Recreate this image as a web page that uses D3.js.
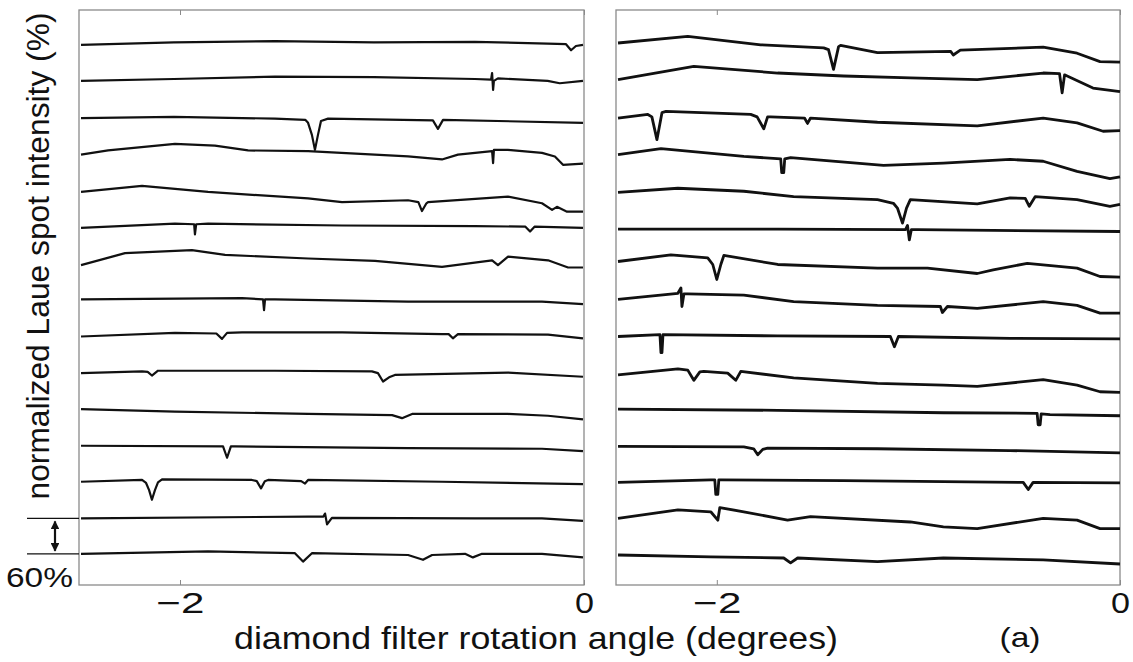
<!DOCTYPE html>
<html>
<head>
<meta charset="utf-8">
<script src="https://cdn.jsdelivr.net/npm/d3@7/dist/d3.min.js"></script>
<style>
body { margin: 0; background: #fff; }
text { font-family: "Liberation Sans", Arial, sans-serif; fill: #111; }
</style>
</head>
<body>
<svg id="chart" width="1133" height="662"></svg>
<script>
// angle ticks (degrees)
var angleTicks = [-2, 0];
var angleDomain = [-2.5, 0];

// stacking level of each trace (%), top to bottom
var leftOffsets = [900, 840, 778, 717, 655, 595, 533, 476, 414, 353, 293, 232, 172, 111, 52];
var rightOffsets = [903, 842, 778, 717, 654, 593, 539, 476, 414, 350, 293, 231, 171, 111, 50];

// normalized intensity (%) vs angle
var leftTraces = [
  [[-2.49,100],[-2.03,104],[-1.53,106],[-1.04,104],[-0.54,105],[-0.18,102],[-0.089,101],[-0.064,91],[-0.04,98],[-0.005,100]],
  [[-2.49,100],[-2.03,103],[-1.53,107],[-1.04,106],[-0.54,103],[-0.46,102],[-0.455,113],[-0.45,85],[-0.446,100],[-0.426,104],[-0.18,100],[-0.12,96],[-0.005,100]],
  [[-2.49,100],[-2.03,102],[-1.53,99],[-1.38,97],[-1.366,92],[-1.347,72],[-1.332,47],[-1.317,72],[-1.302,95],[-1.267,99],[-0.748,96],[-0.723,82],[-0.698,97],[-0.005,92]],
  [[-2.49,100],[-2.356,107],[-2.025,118],[-1.827,115],[-1.663,107],[-1.366,106],[-0.871,97],[-0.703,92],[-0.624,100],[-0.455,106],[-0.45,86],[-0.446,108],[-0.376,108],[-0.208,103],[-0.144,97],[-0.104,83],[-0.005,85]],
  [[-2.49,100],[-2.188,110],[-1.861,100],[-1.366,89],[-1.198,83],[-0.871,86],[-0.82,83],[-0.802,68],[-0.78,81],[-0.772,83],[-0.376,92],[-0.208,81],[-0.158,70],[-0.134,75],[-0.084,67],[-0.005,67]],
  [[-2.49,100],[-2.025,107],[-1.93,106],[-1.926,89],[-1.92,106],[-1.861,107],[-1.198,104],[-0.54,103],[-0.29,102],[-0.267,94],[-0.245,102],[-0.005,100]],
  [[-2.49,100],[-2.272,120],[-1.941,125],[-1.777,117],[-1.366,111],[-1.035,107],[-0.703,97],[-0.455,108],[-0.426,100],[-0.376,114],[-0.178,108],[-0.079,96],[-0.005,96]],
  [[-2.49,100],[-1.693,102],[-1.589,100],[-1.584,82],[-1.579,100],[-1.53,100],[-0.871,96],[-0.208,96],[-0.005,92]],
  [[-2.49,100],[-2.025,106],[-1.82,105],[-1.792,96],[-1.767,106],[-1.693,107],[-1.198,107],[-0.703,104],[-0.67,104],[-0.649,97],[-0.624,104],[-0.178,103],[-0.005,97]],
  [[-2.49,100],[-2.188,103],[-2.16,102],[-2.139,96],[-2.109,104],[-1.53,104],[-1.05,103],[-1.02,100],[-0.995,86],[-0.965,93],[-0.936,97],[-0.376,101],[-0.005,94]],
  [[-2.49,100],[-2.025,96],[-1.366,92],[-0.95,90],[-0.901,85],[-0.851,92],[-0.376,92],[-0.178,89],[-0.005,83]],
  [[-2.49,100],[-1.787,99],[-1.767,80],[-1.748,99],[-1.728,99],[-0.871,96],[-0.208,95],[-0.005,91]],
  [[-2.49,100],[-2.188,103],[-2.168,98],[-2.153,86],[-2.139,70],[-2.124,86],[-2.109,99],[-2.089,104],[-1.644,103],[-1.62,101],[-1.599,89],[-1.58,101],[-1.564,103],[-1.40,101],[-1.381,97],[-1.366,103],[-0.703,100],[-0.005,96]],
  [[-2.49,100],[-1.366,103],[-1.29,103],[-1.282,108],[-1.272,90],[-1.248,101],[-0.54,100],[-0.208,100],[-0.005,96]],
  [[-2.49,100],[-1.861,104],[-1.431,101],[-1.391,87],[-1.347,101],[-0.871,98],[-0.797,90],[-0.752,98],[-0.589,100],[-0.55,94],[-0.505,100],[-0.208,100],[-0.005,94]]
];

var rightTraces = [
  [[-2.49,100],[-2.144,111],[-1.782,97],[-1.47,92],[-1.446,89],[-1.421,56],[-1.396,94],[-1.386,96],[-1.203,84],[-0.84,86],[-0.827,80],[-0.792,88],[-0.381,93],[-0.213,83],[-0.099,69],[0,68]],
  [[-2.49,100],[-2.114,122],[-1.698,111],[-1.371,106],[-1.04,103],[-0.708,100],[-0.381,111],[-0.30,110],[-0.287,78],[-0.275,108],[-0.262,106],[-0.134,86],[0,80]],
  [[-2.49,100],[-2.342,106],[-2.322,102],[-2.297,64],[-2.272,109],[-2.252,111],[-1.832,106],[-1.80,102],[-1.767,82],[-1.748,102],[-1.733,102],[-1.565,100],[-1.55,91],[-1.535,100],[-1.203,93],[-0.708,87],[-0.381,100],[-0.213,92],[-0.084,78],[0,79]],
  [[-2.49,100],[-2.277,110],[-1.866,97],[-1.683,93],[-1.678,70],[-1.668,70],[-1.663,93],[-1.634,95],[-1.173,82],[-0.876,86],[-0.545,92],[-0.381,89],[-0.213,72],[-0.05,60],[0,63]],
  [[-2.49,100],[-2.193,107],[-1.866,102],[-1.619,93],[-1.203,88],[-1.124,82],[-1.104,74],[-1.079,49],[-1.059,74],[-1.04,88],[-0.708,81],[-0.545,91],[-0.47,90],[-0.45,77],[-0.421,93],[-0.213,88],[-0.05,77],[0,80]],
  [[-2.49,100],[-1.698,100],[-1.064,99],[-1.054,106],[-1.045,82],[-1.035,99],[-1.005,99],[0,96]],
  [[-2.49,100],[-2.228,111],[-2.045,106],[-2.02,95],[-2.0,70],[-1.98,95],[-1.965,110],[-1.698,95],[-1.203,89],[-0.955,89],[-0.708,80],[-0.629,86],[-0.46,97],[-0.213,89],[-0.099,75],[0,74]],
  [[-2.49,100],[-2.193,110],[-2.178,119],[-2.173,88],[-2.163,109],[-2.144,109],[-1.866,107],[-1.619,96],[-1.203,90],[-0.891,88],[-0.881,78],[-0.856,88],[-0.708,85],[-0.381,96],[-0.213,90],[-0.099,77],[0,77]],
  [[-2.49,100],[-2.282,103],[-2.277,73],[-2.272,73],[-2.267,103],[-1.698,101],[-1.139,100],[-1.119,83],[-1.099,100],[-0.545,97],[0,96]],
  [[-2.49,100],[-2.193,110],[-2.144,108],[-2.114,91],[-2.084,105],[-2.064,106],[-1.946,103],[-1.906,91],[-1.881,106],[-1.619,95],[-1.203,86],[-0.876,83],[-0.708,81],[-0.381,92],[-0.213,83],[-0.099,72],[0,71]],
  [[-2.49,100],[-1.698,98],[-0.876,94],[-0.411,93],[-0.406,74],[-0.396,74],[-0.391,92],[-0.347,91],[0,89]],
  [[-2.49,100],[-1.866,99],[-1.817,96],[-1.797,86],[-1.772,95],[-1.748,97],[-1.203,96],[-0.545,93],[0,89]],
  [[-2.49,100],[-2.03,104],[-2.01,104],[-2.005,80],[-1.995,80],[-1.99,104],[-1.98,104],[-1.371,103],[-0.48,100],[-0.455,88],[-0.431,100],[0,99]],
  [[-2.49,100],[-2.193,114],[-2.03,111],[-1.995,97],[-1.985,118],[-1.866,111],[-1.649,97],[-1.535,103],[-1.04,94],[-0.876,86],[-0.708,83],[-0.381,100],[-0.213,97],[-0.099,83],[0,83]],
  [[-2.49,100],[-2.03,97],[-1.668,95],[-1.634,87],[-1.599,95],[-1.203,89],[-0.876,95],[-0.381,92],[0,85]]
];

var svg = d3.select("#chart");

var y = d3.scaleLinear()
  .domain([0, 958])
  .range([585, 10]);

var panels = [
  {x0: 79, x1: 584, offsets: leftOffsets, traces: leftTraces, sw: 2.2},
  {x0: 616, x1: 1120, offsets: rightOffsets, traces: rightTraces, sw: 2.8}
];

panels.forEach(function(p) {
  var x = d3.scaleLinear()
    .domain(angleDomain)
    .range([p.x0, p.x1]);

  svg.append("rect")
    .attr("x", p.x0)
    .attr("y", y(958))
    .attr("width", p.x1 - p.x0)
    .attr("height", y(0) - y(958))
    .attr("fill", "none")
    .attr("stroke", "#8a8a8a")
    .attr("stroke-width", 1.3);

  var bottom = svg.append("g")
    .attr("transform", "translate(0," + y(0) + ")")
    .call(d3.axisBottom(x).tickValues(angleTicks).tickSize(-5).tickPadding(7).tickFormat(d3.format("d")));
  var top = svg.append("g")
    .attr("transform", "translate(0," + y(958) + ")")
    .call(d3.axisTop(x).tickValues(angleTicks).tickSize(-5).tickFormat(""));

  [bottom, top].forEach(function(g) {
    g.select(".domain").remove();
    g.selectAll("line").attr("stroke", "#8a8a8a");
  });
  bottom.selectAll("text")
    .attr("font-size", 29)
    .attr("font-family", "'Liberation Sans', Arial, sans-serif")
    .attr("fill", "#111")
    .attr("textLength", function(d) { return d === 0 ? 19 : 48; })
    .attr("lengthAdjust", "spacingAndGlyphs");

  p.traces.forEach(function(t, i) {
    var off = p.offsets[i];
    var line = d3.line()
      .x(function(d) { return x(d[0]); })
      .y(function(d) { return y(off + d[1] - 100); });

    svg.append("path")
      .datum(t)
      .attr("d", line)
      .attr("fill", "none")
      .attr("stroke", "#111")
      .attr("stroke-width", p.sw)
      .attr("stroke-linejoin", "round");
  });
});

// 60% scale bar between the two lowest left traces
var barTop = leftOffsets[13], barBottom = leftOffsets[14];
[barTop, barBottom].forEach(function(v) {
  svg.append("line")
    .attr("x1", 27).attr("x2", 79)
    .attr("y1", y(v)).attr("y2", y(v))
    .attr("stroke", "#111")
    .attr("stroke-width", 1.2);
});

svg.append("defs").append("marker")
  .attr("id", "head")
  .attr("viewBox", "0 0 10 10")
  .attr("refX", 9).attr("refY", 5)
  .attr("markerWidth", 4).attr("markerHeight", 4)
  .attr("orient", "auto-start-reverse")
  .append("path")
    .attr("d", "M0,0L10,5L0,10Z")
    .attr("fill", "#111");

svg.append("line")
  .attr("x1", 55).attr("x2", 55)
  .attr("y1", y(barTop) + 3).attr("y2", y(barBottom) - 3)
  .attr("stroke", "#111")
  .attr("stroke-width", 2.2)
  .attr("marker-start", "url(#head)")
  .attr("marker-end", "url(#head)");

svg.append("text")
  .attr("x", 6)
  .attr("y", 587)
  .attr("font-size", 27)
  .attr("textLength", 67)
  .attr("lengthAdjust", "spacingAndGlyphs")
  .text("60%");

// axis titles
svg.append("text")
  .attr("x", 536)
  .attr("y", 649)
  .attr("text-anchor", "middle")
  .attr("font-size", 32)
  .attr("textLength", 604)
  .attr("lengthAdjust", "spacingAndGlyphs")
  .text("diamond filter rotation angle (degrees)");

svg.append("text")
  .attr("transform", "translate(49,256) rotate(-90)")
  .attr("text-anchor", "middle")
  .attr("font-size", 31)
  .attr("textLength", 487)
  .attr("lengthAdjust", "spacingAndGlyphs")
  .text("normalized Laue spot intensity (%)");

svg.append("text")
  .attr("x", 1020)
  .attr("y", 647)
  .attr("text-anchor", "middle")
  .attr("font-size", 28)
  .attr("textLength", 41)
  .attr("lengthAdjust", "spacingAndGlyphs")
  .text("(a)");
</script>
</body>
</html>
